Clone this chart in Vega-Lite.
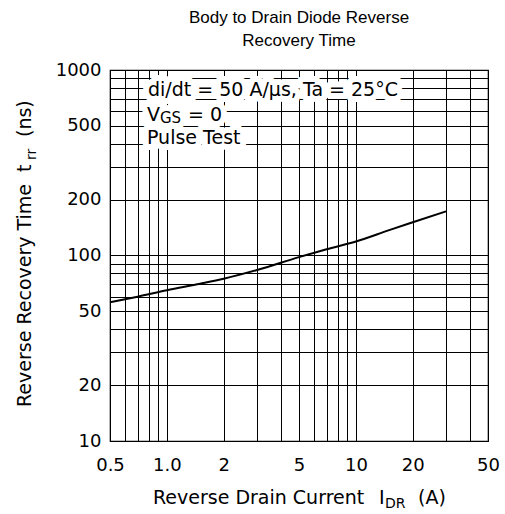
{
  "$schema": "https://vega.github.io/schema/vega-lite/v6.json",
  "width": 378,
  "height": 371,
  "autosize": {"type": "none"},
  "padding": {"left": 110, "top": 70, "right": 17, "bottom": 73},
  "background": "white",
  "config": {
    "font": "DejaVu Sans",
    "view": {"stroke": "black", "strokeWidth": 1.2},
    "axis": {"gridColor": "black", "gridOpacity": 1, "gridWidth": 1, "ticks": false, "domain": false, "labelColor": "black", "labelFont": "DejaVu Sans", "labelFontSize": 18},
    "text": {"font": "DejaVu Sans", "align": "left", "baseline": "alphabetic", "color": "black"}
  },
  "title": {"text": ["Body to Drain Diode Reverse", "Recovery Time"], "fontSize": 17, "fontWeight": "normal", "font": "Liberation Sans", "lineHeight": 23, "offset": 11, "anchor": "middle", "color": "black"},
  "data": {"values": [
    {"current": 0.5, "trr": 56},
    {"current": 0.7, "trr": 60},
    {"current": 1.0, "trr": 65},
    {"current": 1.5, "trr": 70.5},
    {"current": 2, "trr": 75},
    {"current": 3, "trr": 83.5},
    {"current": 5, "trr": 98},
    {"current": 7, "trr": 108},
    {"current": 10, "trr": 119},
    {"current": 15, "trr": 137},
    {"current": 20, "trr": 151},
    {"current": 30, "trr": 173}
  ]},
  "layer": [
    {
      "mark": {"type": "line", "color": "black", "strokeWidth": 2, "interpolate": "monotone"},
      "encoding": {
        "x": {"field": "current", "type": "quantitative", "scale": {"type": "log", "domain": [0.5, 50], "nice": false},
          "axis": {"title": null, "values": [0.5,0.6,0.7,0.8,0.9,1,2,3,4,5,6,7,8,9,10,20,30,40,50],
            "labelExpr": "datum.value == 1 ? '1.0' : (indexof([0.5,2,5,10,20,50], datum.value) >= 0 ? datum.label : '')",
            "labelPadding": 15, "labelOverlap": false, "labelFlush": false}},
        "y": {"field": "trr", "type": "quantitative", "scale": {"type": "log", "domain": [10, 1000], "nice": false},
          "axis": {"title": null, "values": [10,20,30,40,50,60,70,80,90,100,200,300,400,500,600,700,800,900,1000],
            "labelExpr": "indexof([10,20,50,100,200,500,1000], datum.value) >= 0 ? format(datum.value, 'd') : ''",
            "labelPadding": 9, "labelOverlap": false, "labelFlush": false}}
      }
    },
    {
      "data": {"values": [
        {"t": "di/dt = 50 A/μs, Ta = 25°C", "piece": "cond"},
        {"t": "V", "piece": "v"},
        {"t": "GS", "piece": "sub"},
        {"t": "= 0", "piece": "eq"},
        {"t": "Pulse Test", "piece": "pulse"}
      ]},
      "layer": [
        {"transform": [{"filter": "datum.piece == 'cond'"}], "mark": {"type": "text", "fontSize": 19, "dx": 38, "dy": 26, "stroke": "white", "strokeWidth": 12, "strokeJoin": "round", "fill": "white"},
          "encoding": {"x": {"datum": 0.5}, "y": {"datum": 1000}, "text": {"field": "t"}}},
        {"transform": [{"filter": "datum.piece == 'pulse'"}], "mark": {"type": "text", "fontSize": 19, "dx": 37, "dy": 74, "stroke": "white", "strokeWidth": 12, "strokeJoin": "round", "fill": "white"},
          "encoding": {"x": {"datum": 0.5}, "y": {"datum": 1000}, "text": {"field": "t"}}},
        {"transform": [{"filter": "datum.piece == 'v'"}], "mark": {"type": "text", "fontSize": 19, "dx": 37, "dy": 51, "stroke": "white", "strokeWidth": 12, "strokeJoin": "round", "fill": "white"},
          "encoding": {"x": {"datum": 0.5}, "y": {"datum": 1000}, "text": {"field": "t"}}},
        {"transform": [{"filter": "datum.piece == 'sub'"}], "mark": {"type": "text", "fontSize": 15, "dx": 50, "dy": 53, "stroke": "white", "strokeWidth": 12, "strokeJoin": "round", "fill": "white"},
          "encoding": {"x": {"datum": 0.5}, "y": {"datum": 1000}, "text": {"field": "t"}}},
        {"transform": [{"filter": "datum.piece == 'eq'"}], "mark": {"type": "text", "fontSize": 19, "dx": 78, "dy": 51, "stroke": "white", "strokeWidth": 12, "strokeJoin": "round", "fill": "white"},
          "encoding": {"x": {"datum": 0.5}, "y": {"datum": 1000}, "text": {"field": "t"}}},
        {"transform": [{"filter": "datum.piece == 'cond'"}], "mark": {"type": "text", "fontSize": 19, "dx": 38, "dy": 26},
          "encoding": {"x": {"datum": 0.5}, "y": {"datum": 1000}, "text": {"field": "t"}}},
        {"transform": [{"filter": "datum.piece == 'pulse'"}], "mark": {"type": "text", "fontSize": 19, "dx": 37, "dy": 74},
          "encoding": {"x": {"datum": 0.5}, "y": {"datum": 1000}, "text": {"field": "t"}}},
        {"transform": [{"filter": "datum.piece == 'v'"}], "mark": {"type": "text", "fontSize": 19, "dx": 37, "dy": 51},
          "encoding": {"x": {"datum": 0.5}, "y": {"datum": 1000}, "text": {"field": "t"}}},
        {"transform": [{"filter": "datum.piece == 'sub'"}], "mark": {"type": "text", "fontSize": 15, "dx": 50, "dy": 53},
          "encoding": {"x": {"datum": 0.5}, "y": {"datum": 1000}, "text": {"field": "t"}}},
        {"transform": [{"filter": "datum.piece == 'eq'"}], "mark": {"type": "text", "fontSize": 19, "dx": 78, "dy": 51},
          "encoding": {"x": {"datum": 0.5}, "y": {"datum": 1000}, "text": {"field": "t"}}}
      ]
    },
    {
      "data": {"values": [
        {"t": "Reverse Drain Current", "piece": "xmain"},
        {"t": "I", "piece": "xsym"},
        {"t": "DR", "piece": "xsub"},
        {"t": "(A)", "piece": "xunit"},
        {"t": "Reverse Recovery Time", "piece": "ymain"},
        {"t": "t", "piece": "ysym"},
        {"t": "rr", "piece": "ysub"},
        {"t": "(ns)", "piece": "yunit"}
      ]},
      "layer": [
        {"transform": [{"filter": "datum.piece == 'xmain'"}], "mark": {"type": "text", "fontSize": 19, "dx": 43, "dy": 63},
          "encoding": {"x": {"datum": 0.5}, "y": {"datum": 10}, "text": {"field": "t"}}},
        {"transform": [{"filter": "datum.piece == 'xsym'"}], "mark": {"type": "text", "fontSize": 19, "dx": 269, "dy": 63},
          "encoding": {"x": {"datum": 0.5}, "y": {"datum": 10}, "text": {"field": "t"}}},
        {"transform": [{"filter": "datum.piece == 'xsub'"}], "mark": {"type": "text", "fontSize": 14, "dx": 275, "dy": 67},
          "encoding": {"x": {"datum": 0.5}, "y": {"datum": 10}, "text": {"field": "t"}}},
        {"transform": [{"filter": "datum.piece == 'xunit'"}], "mark": {"type": "text", "fontSize": 19, "dx": 308, "dy": 63},
          "encoding": {"x": {"datum": 0.5}, "y": {"datum": 10}, "text": {"field": "t"}}},
        {"transform": [{"filter": "datum.piece == 'ymain'"}], "mark": {"type": "text", "angle": 270, "fontSize": 19, "dx": 34, "dy": -79},
          "encoding": {"x": {"datum": 0.5}, "y": {"datum": 10}, "text": {"field": "t"}}},
        {"transform": [{"filter": "datum.piece == 'ysym'"}], "mark": {"type": "text", "angle": 270, "fontSize": 19, "dx": 269, "dy": -79},
          "encoding": {"x": {"datum": 0.5}, "y": {"datum": 10}, "text": {"field": "t"}}},
        {"transform": [{"filter": "datum.piece == 'ysub'"}], "mark": {"type": "text", "angle": 270, "fontSize": 14, "dx": 281, "dy": -74},
          "encoding": {"x": {"datum": 0.5}, "y": {"datum": 10}, "text": {"field": "t"}}},
        {"transform": [{"filter": "datum.piece == 'yunit'"}], "mark": {"type": "text", "angle": 270, "fontSize": 19, "dx": 304, "dy": -79},
          "encoding": {"x": {"datum": 0.5}, "y": {"datum": 10}, "text": {"field": "t"}}}
      ]
    }
  ]
}
